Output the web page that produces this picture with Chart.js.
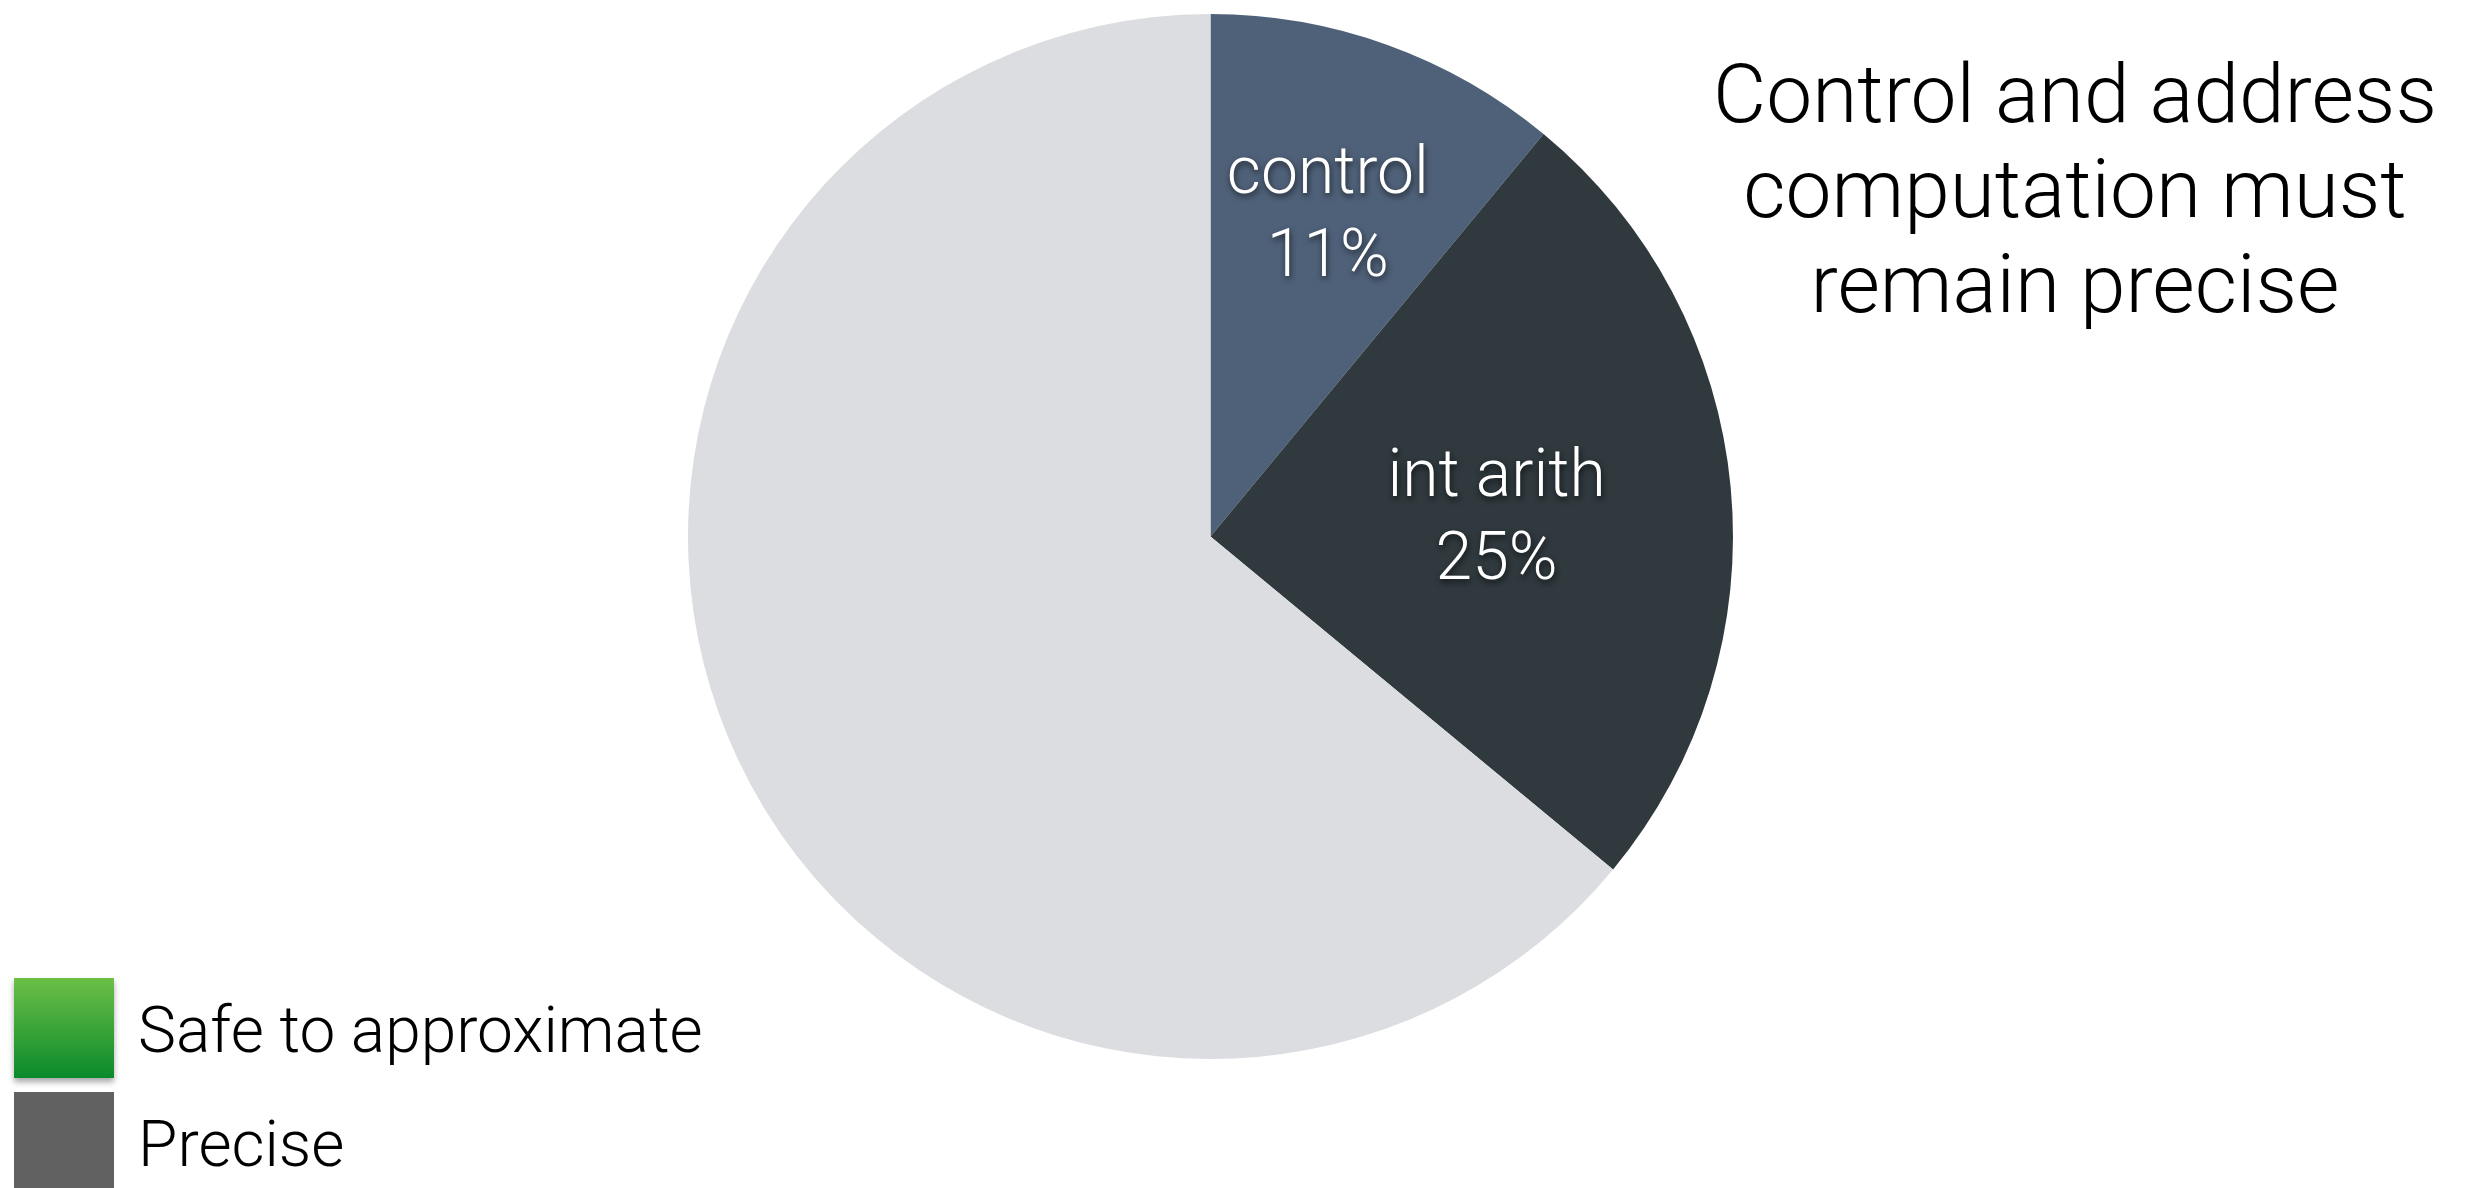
<!DOCTYPE html>
<html>
<head>
<meta charset="utf-8">
<title>Instruction mix</title>
<script src="https://cdn.jsdelivr.net/npm/chart.js@4/dist/chart.umd.min.js"></script>
<style>
  html, body { margin: 0; padding: 0; background: #ffffff; }
  body { width: 2476px; height: 1188px; position: relative; overflow: hidden;
         font-family: "Helvetica Neue", "Roboto", "Liberation Sans", sans-serif; font-weight: 300; }
  #pie { position: absolute; left: 0; top: 0; }
  .note { position: absolute; left: 1655px; width: 840px; top: 47px; text-align: center;
          font-size: 82px; line-height: 95px; color: #000; }
  .key { position: absolute; left: 14px; width: 100px; height: 100px; }
  .key-text { position: absolute; left: 138px; font-size: 64px; line-height: 64px; color: #000; white-space: nowrap; }
</style>
</head>
<body>
<canvas id="pie" width="2476" height="1188"></canvas>
<div class="note" id="note"></div>
<div id="legend"></div>
<script>
// Share of dynamic instructions by kind
const categories = ['control', 'int arith', 'other'];
const shares = [11, 25, 64];
const showShare = [true, true, false];
const sliceColors = ['#4f6179', '#2f393e', '#dcdde0'];

// Slide legend and side note
const legendLabels = ['Safe to approximate', 'Precise'];
const noteLines = ['Control and address', 'computation must', 'remain precise'];

document.getElementById('note').innerHTML = noteLines.join('<br>');

const legendEl = document.getElementById('legend');
legendLabels.forEach((text, i) => {
  const sw = document.createElement('div');
  sw.className = 'key';
  sw.style.top = (978 + i * 114) + 'px';
  if (i === 0) {
    sw.style.background = 'linear-gradient(#6cbf46, #0b8a2c)';
    sw.style.boxShadow = '0 4px 6px rgba(0,0,0,0.35)';
  } else {
    sw.style.background = '#616161';
  }
  legendEl.appendChild(sw);
  const t = document.createElement('div');
  t.className = 'key-text';
  t.style.top = (999 + i * 114) + 'px';
  t.textContent = text;
  legendEl.appendChild(t);
});

// Writes "name / NN%" inside the labelled wedges
const sliceLabels = {
  id: 'sliceLabels',
  afterDatasetsDraw(chart, args, opts) {
    const ctx = chart.ctx;
    const meta = chart.getDatasetMeta(0);
    const data = chart.data.datasets[0].data;
    const total = data.reduce((a, b) => a + b, 0);
    meta.data.forEach((arc, i) => {
      if (!showShare[i]) return;
      const p = arc.getProps(['x', 'y', 'startAngle', 'endAngle', 'outerRadius'], true);
      const mid = (p.startAngle + p.endAngle) / 2;
      const r = p.outerRadius * opts.radius[i];
      const x = p.x + Math.cos(mid) * r;
      const y = p.y + Math.sin(mid) * r + opts.nudge[i];
      const pct = Math.round(data[i] / total * 100) + '%';
      ctx.save();
      ctx.font = opts.font;
      ctx.fillStyle = '#ffffff';
      ctx.textAlign = 'center';
      ctx.textBaseline = 'alphabetic';
      ctx.shadowColor = 'rgba(0,0,0,0.65)';
      ctx.shadowBlur = 6;
      ctx.shadowOffsetX = 1;
      ctx.shadowOffsetY = 3;
      ctx.fillText(chart.data.labels[i], x, y - 20);
      ctx.fillText(pct, x, y + 63);
      ctx.restore();
    });
  }
};

new Chart(document.getElementById('pie'), {
  type: 'pie',
  data: {
    labels: categories,
    datasets: [{
      data: shares,
      backgroundColor: sliceColors,
      borderWidth: 0,
      hoverOffset: 0
    }]
  },
  options: {
    responsive: false,
    devicePixelRatio: 1,
    animation: false,
    layout: { padding: { left: 688, top: 14, right: 743, bottom: 129 } },
    plugins: {
      legend: { display: false },
      tooltip: { enabled: false },
      sliceLabels: {
        radius: [0.663, 0.55],
        nudge: [2, 7],
        font: '300 66px "Helvetica Neue", Roboto, "Liberation Sans", sans-serif'
      }
    }
  },
  plugins: [sliceLabels]
});
</script>
</body>
</html>
